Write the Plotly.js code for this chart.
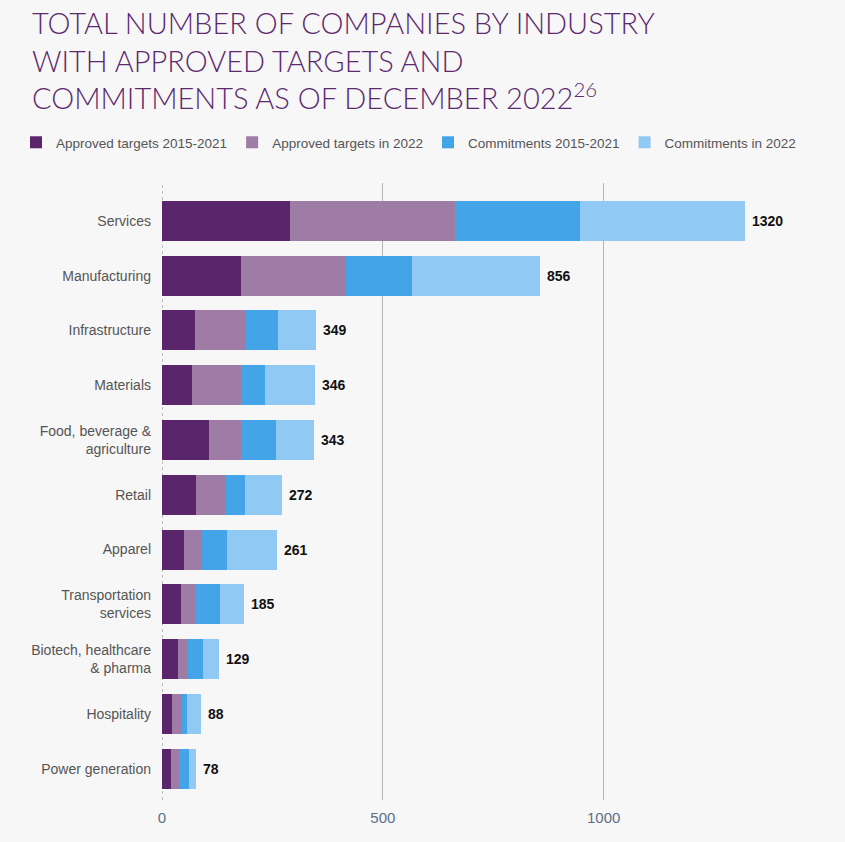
<!DOCTYPE html>
<html>
<head>
<meta charset="utf-8">
<script src="https://cdn.plot.ly/plotly-3.0.1.min.js"></script>
<style>
  html, body { margin: 0; padding: 0; background: #f7f7f7; }
  #chart { width: 845px; height: 842px; }
</style>
</head>
<body>
<div id="chart"></div>
<script>
// ---- Data ----
const categories = [
  "Services",
  "Manufacturing",
  "Infrastructure",
  "Materials",
  "Food, beverage &<br>agriculture",
  "Retail",
  "Apparel",
  "Transportation<br>services",
  "Biotech, healthcare<br>& pharma",
  "Hospitality",
  "Power generation"
];
const approved2015_2021   = [290, 179, 75, 68, 106, 77, 50, 43, 36, 23, 20];
const approved2022        = [373, 237, 113, 111, 73, 68, 41, 33, 23, 22, 19];
const commitments2015_2021 = [284, 151, 75, 54, 79, 43, 56, 55, 34, 12, 22];
const commitments2022     = [373, 289, 86, 113, 85, 84, 114, 54, 36, 31, 17];
const seriesNames = [
  "Approved targets 2015-2021",
  "Approved targets in 2022",
  "Commitments 2015-2021",
  "Commitments in 2022"
];
const xTickVals = [0, 500, 1000];

// ---- Build ----
const seriesValues = [approved2015_2021, approved2022, commitments2015_2021, commitments2022];
const colors = ["#5b256b", "#9f7ca6", "#43a5e8", "#8fc9f4"];
const totals = categories.map((_, i) => seriesValues.reduce((s, arr) => s + arr[i], 0));

const traces = seriesValues.map((vals, k) => ({
  type: "bar",
  orientation: "h",
  name: seriesNames[k],
  y: categories,
  x: vals,
  marker: { color: colors[k], line: { width: 0 } },
  hoverinfo: "x+name"
}));

const annotations = categories.map((c, i) => ({
  x: totals[i],
  y: c,
  xref: "x",
  yref: "y",
  text: "<b>" + totals[i] + "</b>",
  showarrow: false,
  xanchor: "left",
  xshift: 5,
  font: { family: "Liberation Sans, Arial, sans-serif", size: 14, color: "#111" }
}));

const M = { l: 162, r: 25, t: 183, b: 42 };
const plotW = 845 - M.l - M.r;
const plotH = 842 - M.t - M.b;

const layout = {
  width: 845,
  height: 842,
  paper_bgcolor: "#f7f7f7",
  plot_bgcolor: "#f7f7f7",
  barmode: "stack",
  bargap: 0.27,
  margin: M,
  title: {
    text: "TOTAL NUMBER OF COMPANIES BY INDUSTRY<br>WITH APPROVED TARGETS AND<br>COMMITMENTS AS OF DECEMBER 2022<sup>26</sup>",
    x: 32 / 845,
    xref: "container",
    xanchor: "left",
    y: 1 - 34 / 842,
    yref: "container",
    yanchor: "top",
    font: { family: "Lato, sans-serif", size: 29, color: "#5b2a6e", weight: 300 }
  },
  showlegend: true,
  legend: {
    orientation: "h",
    xref: "paper",
    yref: "paper",
    x: (16 - M.l) / plotW,
    y: 1 + (M.t - 127) / plotH,
    xanchor: "left",
    yanchor: "top",
    traceorder: "normal",
    font: { family: "Liberation Sans, Arial, sans-serif", size: 13.5, color: "#555" },
    bgcolor: "rgba(0,0,0,0)",
    itemclick: false
  },
  xaxis: {
    range: [0, plotW / 0.4417],
    tickvals: xTickVals,
    showgrid: true,
    gridcolor: "#b5b5b5",
    gridwidth: 1,
    zeroline: false,
    showline: false,
    ticks: "",
    ticklabelstandoff: 7,
    tickfont: { family: "Liberation Sans, Arial, sans-serif", size: 15, color: "#5a7089" },
    fixedrange: true
  },
  yaxis: {
    type: "category",
    categoryorder: "array",
    categoryarray: categories,
    range: [10.57, -0.69],
    showgrid: false,
    zeroline: false,
    showline: false,
    ticks: "",
    ticklabelstandoff: 10,
    tickfont: { family: "Liberation Sans, Arial, sans-serif", size: 14, color: "#555" },
    fixedrange: true
  },
  shapes: [{
    type: "line",
    xref: "x",
    yref: "paper",
    x0: 0, x1: 0, y0: 0, y1: 1,
    line: { color: "#aaaaaa", width: 1.5, dash: "dot" },
    layer: "below"
  }],
  annotations: annotations
};

Plotly.newPlot("chart", traces, layout, { displayModeBar: false });
</script>
</body>
</html>
